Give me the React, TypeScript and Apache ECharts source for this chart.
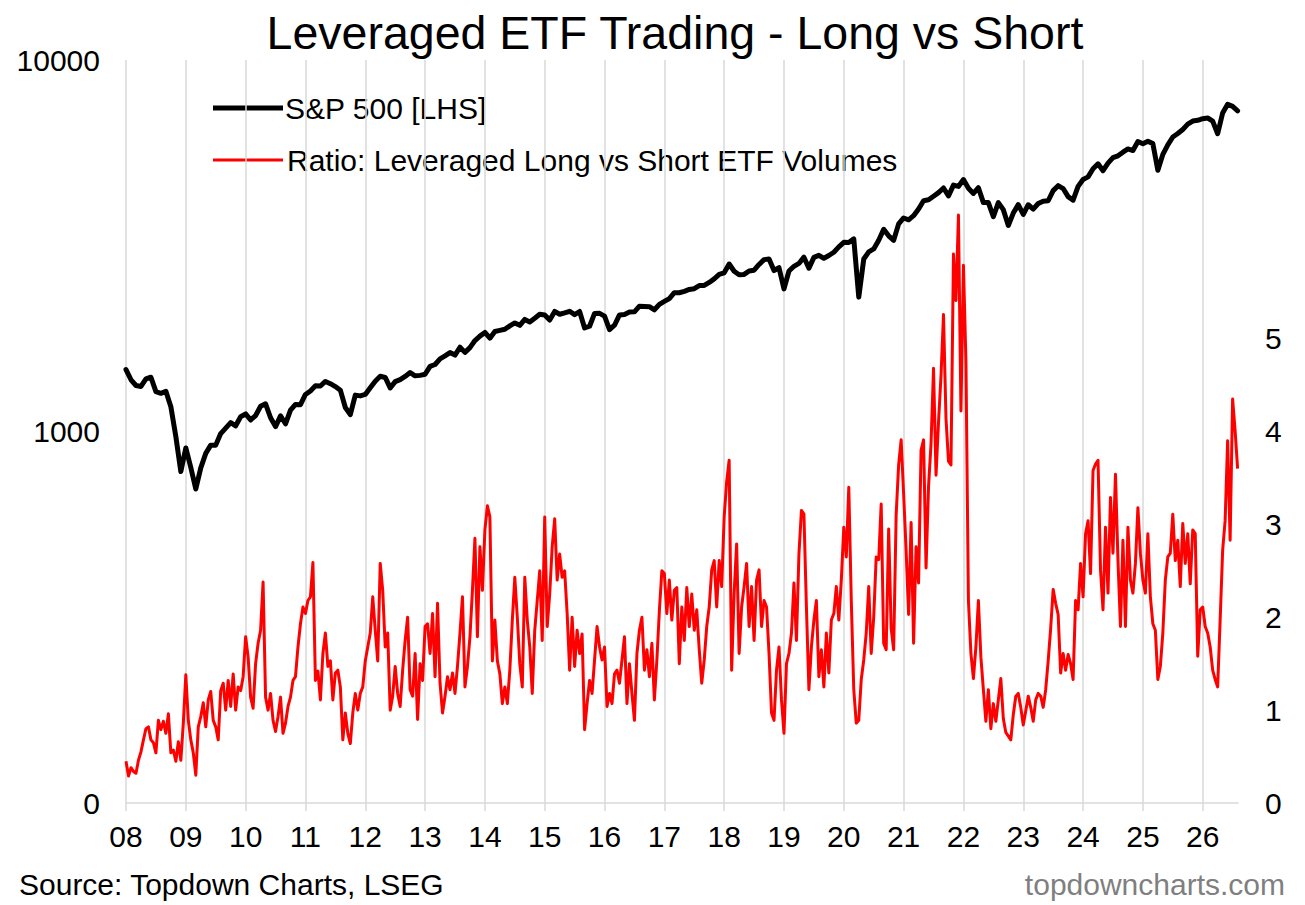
import React, { useEffect, useRef } from "react";
import * as echarts from "echarts";

const FONT = "'Liberation Sans', Arial, Helvetica, sans-serif";

// x axis (fractional years)
const X_MIN = 2008;
const X_MAX = 2026.59;
const yearTicks = [2008, 2009, 2010, 2011, 2012, 2013, 2014, 2015, 2016, 2017, 2018, 2019, 2020, 2021, 2022, 2023, 2024, 2025, 2026];

// S&P 500, monthly (start of month), from Jan 2008
const sp2008 = [1468, 1378, 1330, 1322, 1385, 1400, 1280, 1267, 1283, 1166, 969, 780];
const sp2009 = [903, 800, 700, 798, 873, 919, 919, 987, 1021, 1057, 1036, 1096];
const sp2010 = [1115, 1074, 1104, 1169, 1187, 1089, 1031, 1102, 1049, 1141, 1183, 1181];
const sp2011 = [1258, 1286, 1327, 1326, 1364, 1345, 1321, 1292, 1160, 1110, 1253, 1247];
const sp2012 = [1258, 1312, 1366, 1408, 1398, 1310, 1362, 1379, 1407, 1441, 1412, 1416];
const sp2013 = [1426, 1498, 1515, 1569, 1598, 1631, 1606, 1686, 1633, 1682, 1757, 1806];
const sp2014 = [1848, 1783, 1859, 1872, 1884, 1924, 1960, 1931, 2003, 1972, 2018, 2068];
const sp2015 = [2059, 1995, 2105, 2068, 2086, 2107, 2063, 2104, 1900, 1920, 2079, 2080];
const sp2016 = [2044, 1880, 1932, 2060, 2065, 2097, 2099, 2174, 2171, 2168, 2126, 2199];
const sp2017 = [2239, 2279, 2364, 2363, 2384, 2412, 2423, 2470, 2472, 2519, 2575, 2648];
const sp2018 = [2674, 2824, 2700, 2641, 2648, 2705, 2718, 2816, 2902, 2914, 2712, 2760];
const sp2019 = [2420, 2704, 2784, 2834, 2946, 2752, 2942, 2980, 2926, 2977, 3038, 3141];
const sp2020 = [3231, 3226, 3300, 2300, 2912, 3044, 3100, 3271, 3500, 3363, 3270, 3622];
const sp2021 = [3756, 3714, 3811, 3973, 4181, 4204, 4298, 4395, 4523, 4308, 4605, 4567];
const sp2022 = [4766, 4516, 4374, 4530, 4132, 4132, 3785, 4130, 3955, 3586, 3872, 4080];
const sp2023 = [3840, 4077, 3970, 4109, 4169, 4180, 4450, 4589, 4508, 4288, 4194, 4568];
const sp2024 = [4770, 4846, 5096, 5254, 5036, 5278, 5460, 5522, 5648, 5762, 5705, 6032];
const sp2025 = [5950, 6041, 5955, 5050, 5570, 5912, 6205, 6339, 6500, 6720, 6850, 6880];
const sp2026 = [6950, 6980, 6850, 6330, 7200, 7600, 7500, 7300];

// Ratio: leveraged long vs short ETF volumes, twice a month, from Jan 2008
const r2008 = [0.45, 0.29, 0.38, 0.34, 0.32, 0.46, 0.55, 0.68, 0.8, 0.82, 0.68, 0.65, 0.54, 0.89, 0.79, 0.88, 0.75, 0.96, 0.54, 0.57, 0.45, 0.66, 0.46, 0.86];
const r2009 = [1.38, 0.89, 0.68, 0.54, 0.3, 0.82, 0.93, 1.08, 0.82, 1.11, 1.2, 0.89, 0.82, 0.68, 1.21, 1.29, 1.0, 1.32, 1.04, 1.39, 1.0, 1.25, 1.21, 1.36];
const r2010 = [1.79, 1.57, 1.14, 1.02, 1.5, 1.72, 1.86, 2.38, 1.14, 1.0, 1.18, 0.89, 0.77, 0.93, 1.14, 0.75, 0.86, 1.04, 1.14, 1.32, 1.36, 1.68, 1.93, 2.11];
const r2011 = [2.04, 2.18, 2.22, 2.59, 1.32, 1.42, 1.11, 1.61, 1.83, 1.47, 1.53, 1.11, 1.4, 1.43, 1.25, 0.68, 0.97, 0.75, 0.64, 0.97, 1.18, 1.0, 1.18, 1.25];
const r2012 = [1.53, 1.68, 1.83, 2.22, 1.86, 1.53, 2.58, 2.29, 1.68, 1.83, 1.0, 1.15, 1.47, 1.18, 1.04, 1.43, 1.75, 2.0, 1.22, 1.15, 1.61, 0.9, 1.5, 1.32];
const r2013 = [1.9, 1.93, 1.61, 2.04, 1.36, 2.15, 1.29, 0.97, 1.15, 1.36, 1.22, 1.4, 1.18, 1.47, 1.83, 2.22, 1.25, 1.47, 1.79, 2.29, 2.85, 1.79, 2.76, 2.29];
const r2014 = [2.94, 3.2, 3.08, 1.53, 1.97, 1.53, 1.39, 1.07, 1.25, 1.07, 1.43, 1.97, 2.43, 2.0, 1.5, 1.25, 2.43, 1.97, 1.68, 1.18, 1.86, 2.18, 2.5, 1.75];
const r2015 = [3.08, 1.9, 2.25, 2.76, 3.06, 2.4, 2.68, 2.43, 2.5, 2.04, 1.43, 2.0, 1.47, 1.86, 1.61, 1.82, 0.79, 1.07, 1.32, 1.18, 1.54, 1.9, 1.68, 1.54];
const r2016 = [1.68, 1.04, 1.18, 1.07, 1.39, 1.43, 1.29, 1.54, 1.79, 1.07, 1.5, 1.18, 0.89, 1.61, 1.86, 2.0, 1.43, 1.65, 1.36, 1.72, 1.11, 1.54, 2.07, 2.5];
const r2017 = [2.47, 2.04, 2.4, 1.97, 2.29, 2.32, 1.5, 2.11, 1.75, 2.32, 1.9, 2.25, 1.86, 2.08, 1.65, 1.29, 1.54, 1.9, 2.11, 2.51, 2.61, 2.11, 2.61, 2.33];
const r2018 = [3.08, 3.46, 3.69, 1.43, 2.26, 2.79, 1.61, 2.11, 2.33, 2.58, 1.9, 2.33, 1.75, 2.4, 2.51, 1.9, 2.18, 2.11, 1.61, 0.97, 0.89, 1.43, 1.68, 1.11];
const r2019 = [0.75, 1.5, 1.61, 1.83, 2.37, 1.75, 2.68, 3.15, 3.11, 2.11, 1.22, 1.68, 1.97, 2.18, 1.36, 1.65, 1.25, 1.83, 1.4, 1.97, 2.04, 2.33, 1.97, 2.4];
const r2020 = [2.97, 2.65, 3.4, 2.18, 1.22, 0.86, 0.89, 1.33, 1.54, 1.83, 2.33, 1.61, 2.0, 2.65, 2.62, 3.22, 1.72, 1.65, 2.95, 1.88, 1.65, 3.1, 3.64, 3.91];
const r2021 = [3.33, 2.72, 2.03, 3.02, 1.72, 2.76, 2.37, 3.8, 3.91, 2.53, 3.41, 3.87, 4.68, 3.53, 4.1, 4.6, 5.26, 4.14, 3.68, 3.64, 5.91, 5.41, 6.33, 4.22];
const r2022 = [5.79, 4.76, 2.18, 1.61, 1.34, 1.68, 2.18, 1.57, 1.22, 0.88, 1.22, 0.8, 1.07, 0.88, 1.11, 1.34, 0.91, 0.76, 0.72, 0.68, 0.95, 1.15, 1.18, 1.03];
const r2023 = [0.84, 0.99, 1.15, 1.03, 0.88, 1.11, 1.18, 1.15, 1.03, 1.22, 1.53, 1.88, 2.3, 2.15, 2.03, 1.4, 1.61, 1.43, 1.6, 1.5, 1.33, 2.18, 2.08, 2.58];
const r2024 = [2.22, 2.9, 3.04, 2.47, 3.58, 3.65, 3.69, 2.51, 2.08, 2.97, 2.26, 3.29, 2.69, 3.54, 2.61, 1.9, 2.83, 1.9, 2.97, 2.4, 2.26, 2.58, 3.18, 2.69];
const r2025 = [2.4, 2.26, 2.9, 2.22, 1.93, 1.86, 1.33, 1.47, 1.83, 2.4, 2.65, 2.69, 3.11, 2.61, 2.83, 2.33, 3.01, 2.58, 2.9, 2.36, 2.94, 2.9, 1.58, 2.08];
const r2026 = [2.11, 1.9, 1.83, 1.68, 1.43, 1.33, 1.25, 1.97, 2.72, 3.04, 3.9, 2.83, 4.35, 4.01, 3.6];

const spx = [
  ...sp2008, ...sp2009, ...sp2010, ...sp2011, ...sp2012, ...sp2013, ...sp2014, ...sp2015, ...sp2016,
  ...sp2017, ...sp2018, ...sp2019, ...sp2020, ...sp2021, ...sp2022, ...sp2023, ...sp2024, ...sp2025, ...sp2026,
];
const ratio = [
  ...r2008, ...r2009, ...r2010, ...r2011, ...r2012, ...r2013, ...r2014, ...r2015, ...r2016,
  ...r2017, ...r2018, ...r2019, ...r2020, ...r2021, ...r2022, ...r2023, ...r2024, ...r2025, ...r2026,
];

const leftTickLabels: Record<number, string> = { 100: "0", 1000: "1000", 10000: "10000" };
const rightTickLabels = ["0", "1", "2", "3", "4", "5"];

const TITLE = "Leveraged ETF Trading - Long vs Short";
const LEGEND_SPX = "S&P 500 [LHS]";
const LEGEND_RATIO = "Ratio: Leveraged Long vs Short ETF Volumes";
const SOURCE = "Source: Topdown Charts, LSEG";
const BRAND = "topdowncharts.com";

const GRID = "#d9d9d9";
const FS = 30;

export default function App() {
  const ref = useRef<HTMLDivElement>(null);

  useEffect(() => {
    if (!ref.current) return;
    const chart = echarts.init(ref.current, undefined, { renderer: "svg" });
    const spData = spx.map((v, i) => [X_MIN + i / 12, v]);
    const ratioData = ratio.map((v, i) => [X_MIN + i / 24, v]);

    chart.setOption({
      animation: false,
      backgroundColor: "#ffffff",
      textStyle: { fontFamily: FONT },
      grid: { left: 126, right: 67, top: 60, bottom: 102, containLabel: false },
      xAxis: {
        type: "value",
        min: X_MIN,
        max: X_MAX,
        interval: 1,
        axisLine: { show: true, onZero: false, lineStyle: { color: GRID, width: 1.5 } },
        axisTick: {
          show: true,
          length: 8,
          customValues: yearTicks,
          lineStyle: { color: GRID, width: 1.5 },
        },
        axisLabel: {
          customValues: yearTicks,
          formatter: (v: number) => String(Math.round(v) % 100).padStart(2, "0"),
          fontSize: FS,
          color: "#000",
          fontFamily: FONT,
          margin: 18,
        },
        splitLine: { show: true, lineStyle: { color: GRID, width: 1.5 } },
      },
      yAxis: [
        {
          type: "log",
          logBase: 10,
          min: 100,
          max: 10000,
          position: "left",
          axisLine: { show: false },
          axisTick: { show: false },
          splitLine: { show: false },
          axisLabel: {
            formatter: (v: number) => leftTickLabels[Math.round(v)] ?? "",
            fontSize: FS,
            color: "#000",
            fontFamily: FONT,
            margin: 26,
          },
        },
        {
          type: "value",
          min: 0,
          max: 8,
          interval: 1,
          position: "right",
          axisLine: { show: false },
          axisTick: { show: false },
          splitLine: { show: false },
          axisLabel: {
            formatter: (v: number) => rightTickLabels[Math.round(v)] ?? "",
            fontSize: FS,
            color: "#000",
            fontFamily: FONT,
            margin: 27,
          },
        },
      ],
      series: [
        {
          name: LEGEND_SPX,
          type: "line",
          yAxisIndex: 0,
          data: spData,
          showSymbol: false,
          symbol: "none",
          lineStyle: { color: "#000000", width: 5, cap: "round", join: "round" },
          z: 3,
        },
        {
          name: LEGEND_RATIO,
          type: "line",
          yAxisIndex: 1,
          data: ratioData,
          showSymbol: false,
          symbol: "none",
          lineStyle: { color: "#ff0000", width: 3, join: "round" },
          z: 2,
        },
      ],
      graphic: [
        {
          type: "text",
          x: 675,
          y: 33,
          style: {
            text: TITLE,
            fill: "#000",
            fontSize: 46.5,
            fontFamily: FONT,
            align: "center",
            verticalAlign: "middle",
          },
        },
        {
          type: "line",
          shape: { x1: 213, y1: 108, x2: 283, y2: 108 },
          style: { stroke: "#000", lineWidth: 5 },
        },
        {
          type: "text",
          x: 285,
          y: 108,
          style: {
            text: LEGEND_SPX,
            fill: "#000",
            fontSize: FS,
            fontFamily: FONT,
            align: "left",
            verticalAlign: "middle",
          },
        },
        {
          type: "line",
          shape: { x1: 213, y1: 160, x2: 283, y2: 160 },
          style: { stroke: "#ff0000", lineWidth: 3 },
        },
        {
          type: "text",
          x: 287,
          y: 160,
          style: {
            text: LEGEND_RATIO,
            fill: "#000",
            fontSize: FS,
            fontFamily: FONT,
            align: "left",
            verticalAlign: "middle",
          },
        },
        {
          type: "text",
          x: 19,
          y: 884,
          style: {
            text: SOURCE,
            fill: "#000",
            fontSize: FS,
            fontFamily: FONT,
            align: "left",
            verticalAlign: "middle",
          },
        },
        {
          type: "text",
          x: 1285,
          y: 884,
          style: {
            text: BRAND,
            fill: "#7f7f7f",
            fontSize: FS,
            fontFamily: FONT,
            align: "right",
            verticalAlign: "middle",
          },
        },
      ],
    });

    return () => {
      chart.dispose();
    };
  }, []);

  return (
    <div
      ref={ref}
      style={{ position: "absolute", left: 0, top: 0, width: 1305, height: 905, background: "#fff" }}
    />
  );
}
